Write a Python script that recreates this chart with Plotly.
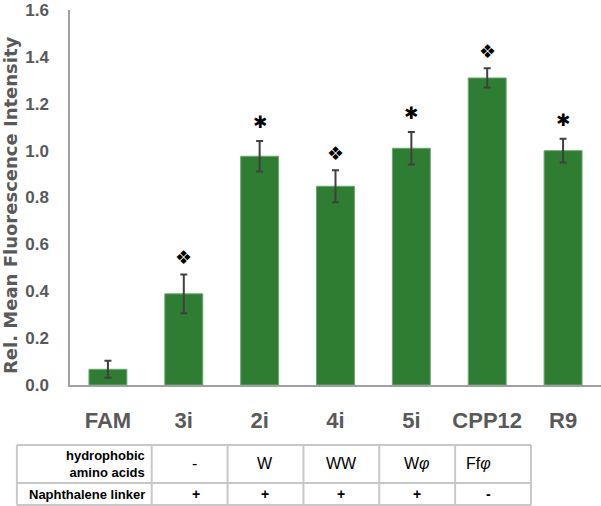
import plotly.graph_objects as go

categories = ["FAM", "3i", "2i", "4i", "5i", "CPP12", "R9"]
values = [0.067, 0.389, 0.976, 0.848, 1.010, 1.310, 1.000]
errors = [0.036, 0.083, 0.065, 0.068, 0.069, 0.041, 0.051]
marks = ["", "❖", "✱", "❖", "✱", "❖", "✱"]

row_labels = ["hydrophobic<br>amino acids", "Naphthalene linker"]
hydrophobic = ["-", "W", "WW", "W<i>φ</i>", "Ff<i>φ</i>"]
linker = ["+", "+", "+", "+", "-"]
y_title = "Rel. Mean Fluorescence Intensity"

GREEN = "#2E7D32"
GRAY_TXT = "#595959"
AXIS = "#A0A0A0"
BORDER = "#C8C8C8"

TOP, BOTTOM = 10, 121
PLOT_H = 506 - TOP - BOTTOM


def py(pixel_y):
    """convert a pixel row of the page to a paper y coordinate"""
    return (506 - BOTTOM - pixel_y) / PLOT_H


fig = go.Figure()
fig.add_trace(go.Bar(
    x=categories, y=values,
    marker=dict(color=GREEN, line=dict(color="#6FA672", width=1)),
    error_y=dict(type="data", array=errors, color="#404040", thickness=2, width=3.5),
    showlegend=False,
))

annotations = []
for c, v, e, m in zip(categories, values, errors, marks):
    if not m:
        continue
    if m == "✱":
        annotations.append(dict(x=c, y=v + e + 0.08, text=m, showarrow=False,
                                font=dict(size=17, color="black", family="DejaVu Sans"),
                                xref="x", yref="y", yanchor="middle"))
    else:
        annotations.append(dict(x=c, y=v + e + 0.075, text=m, showarrow=False,
                                font=dict(size=19, color="black", family="DejaVu Sans"),
                                xref="x", yref="y", yanchor="middle"))

# y-axis title as rotated annotation
annotations.append(dict(x=-0.113, y=py(205), xref="paper", yref="paper", text="<b>" + y_title + "</b>",
                        textangle=-90, showarrow=False, xanchor="center", yanchor="middle",
                        font=dict(size=18, color=GRAY_TXT, family="DejaVu Sans")))

# ---- table below the chart (paper coordinates) ----
n = len(categories)
off = 0.011
col_edges = [-0.100] + [k / n + off for k in range(1, len(hydrophobic) + 2)]
row_edges = [py(445), py(483), py(505)]

shapes = []
for y in row_edges:
    shapes.append(dict(type="line", xref="paper", yref="paper",
                       x0=col_edges[0], x1=col_edges[-1], y0=y, y1=y,
                       line=dict(color=BORDER, width=2)))
for x in col_edges:
    shapes.append(dict(type="line", xref="paper", yref="paper",
                       x0=x, x1=x, y0=row_edges[0], y1=row_edges[-1],
                       line=dict(color=BORDER, width=2)))

row_mid = [(row_edges[0] + row_edges[1]) / 2, (row_edges[1] + row_edges[2]) / 2]
for r, lab in enumerate(row_labels):
    annotations.append(dict(x=col_edges[1] - 0.009, y=row_mid[r], text="<b>" + lab + "</b>",
                            xref="paper", yref="paper", xanchor="right", yanchor="middle",
                            align="right", showarrow=False,
                            font=dict(size=13, color="black", family="Liberation Sans")))
for j, (h, l) in enumerate(zip(hydrophobic, linker)):
    xc = (col_edges[j + 1] + col_edges[j + 2]) / 2
    annotations.append(dict(x=xc, y=row_mid[0], text=h, xref="paper", yref="paper",
                            showarrow=False, yanchor="middle",
                            font=dict(size=16, color="black", family="Liberation Sans")))
    annotations.append(dict(x=xc, y=row_mid[1], text="<b>" + l + "</b>", xref="paper", yref="paper",
                            showarrow=False, yanchor="middle",
                            font=dict(size=14, color="black", family="Liberation Sans")))

fig.update_layout(
    width=601, height=506,
    margin=dict(l=70, r=0, t=TOP, b=BOTTOM),
    paper_bgcolor="white", plot_bgcolor="white",
    bargap=0.5,
    font=dict(family="Liberation Sans"),
    annotations=annotations,
    shapes=shapes,
    xaxis=dict(
        showline=True, linecolor=AXIS, linewidth=1.5,
        ticks="", showgrid=False, zeroline=False, automargin=False,
        tickfont=dict(size=22, color=GRAY_TXT, family="Liberation Sans", weight="bold"),
        ticklabelstandoff=15,
    ),
    yaxis=dict(
        range=[0, 1.6], dtick=0.2, tickformat=".1f",
        showline=True, linecolor=AXIS, linewidth=1.5,
        ticks="", showgrid=False, zeroline=False, automargin=False,
        ticklabeloverflow="allow",
        tickfont=dict(size=17, color=GRAY_TXT, family="Liberation Sans", weight="bold"),
        ticklabelstandoff=16,
    ),
)

fig.write_html("out.html", config={"displayModeBar": False},
               post_script="document.body.style.margin='0';")
